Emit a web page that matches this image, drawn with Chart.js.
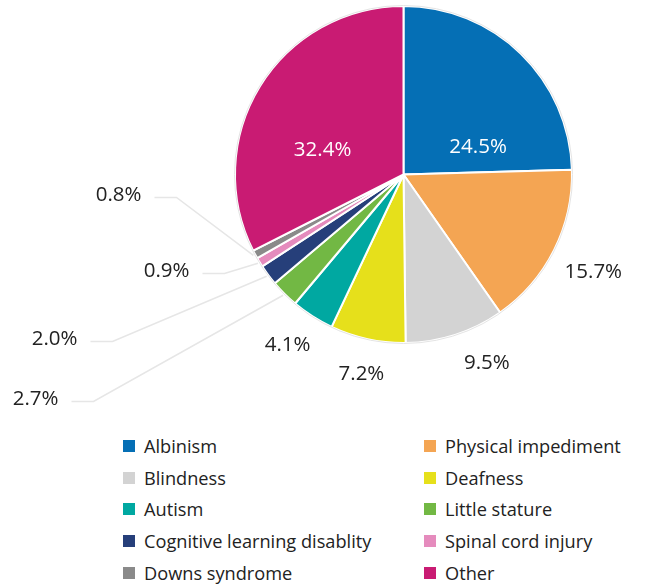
<!DOCTYPE html>
<html lang="en">
<head>
    <meta charset="UTF-8">
    <title>Disability types</title>
    <script src="https://cdn.jsdelivr.net/npm/chart.js"></script>
    <style>
        body {
            margin: 0;
            width: 662px;
            height: 587px;
            background: #fff;
            font-family: 'Open Sans', sans-serif;
            position: relative;
            overflow: hidden;
        }

        #chartBox {
            position: absolute;
            left: 0;
            top: 0;
            width: 662px;
            height: 430px;
        }

        #legend {
            position: absolute;
            left: 123px;
            top: 430px;
            display: grid;
            grid-template-columns: 301px 240px;
            grid-auto-rows: 31.8px;
            font-size: 18.2px;
            color: #222;
        }

        .item {
            display: flex;
            align-items: center;
            white-space: nowrap;
        }

        .swatch {
            width: 12px;
            height: 12px;
            margin-right: 9px;
            flex: none;
        }
    </style>
</head>
<body>
    <div id="chartBox"><canvas id="pieChart"></canvas></div>
    <div id="legend"></div>

    <script>
        const categories = ['Albinism', 'Physical impediment', 'Blindness', 'Deafness', 'Autism',
            'Little stature', 'Cognitive learning disablity', 'Spinal cord injury', 'Downs syndrome', 'Other'];
        const shares = [24.5, 15.7, 9.5, 7.2, 4.1, 2.7, 2.0, 0.9, 0.8, 32.4];
        const colors = ['#056fb5', '#f4a553', '#d3d3d3', '#e6e01b', '#00a8a1',
            '#72b844', '#263f7a', '#e58bbd', '#8a8a8a', '#c91b73'];

        // how each percentage label is placed
        const labelLayout = [
            { kind: 'in', r: 80, shift: 24.6 },
            { kind: 'out', r: 213, shift: 0.3 },
            { kind: 'out', r: 204.5, shift: -6.2 },
            { kind: 'out', r: 203, shift: -0.3 },
            { kind: 'out', r: 205, shift: 1.8 },
            { kind: 'lead', dx: -310, dy: 227 },
            { kind: 'lead', dx: -291, dy: 167 },
            { kind: 'lead', dx: -179, dy: 99 },
            { kind: 'lead', dx: -227, dy: 23 },
            { kind: 'in', r: 85, shift: -13.7 }
        ];

        const pieLabels = {
            id: 'pieLabels',
            afterDatasetsDraw(chart) {
                const ctx = chart.ctx;
                const arcs = chart.getDatasetMeta(0).data;
                ctx.save();
                // faint outline round the pie
                const a0 = arcs[0];
                ctx.beginPath();
                ctx.arc(a0.x, a0.y, a0.outerRadius + 0.5, 0, Math.PI * 2);
                ctx.strokeStyle = '#e4e4e4';
                ctx.lineWidth = 1;
                ctx.stroke();

                const size = 20.5;
                const half = size * 0.357;  // half the digit height
                ctx.font = size + 'px "Open Sans", sans-serif';
                ctx.textBaseline = 'alphabetic';
                arcs.forEach((arc, i) => {
                    const cfg = labelLayout[i];
                    const text = shares[i].toFixed(1) + '%';
                    const mid = (arc.startAngle + arc.endAngle) / 2;
                    if (cfg.kind === 'lead') {
                        const ex = arc.x + cfg.dx, ey = arc.y + cfg.dy;
                        const sx = arc.x + Math.cos(mid) * (arc.outerRadius + 2);
                        const sy = arc.y + Math.sin(mid) * (arc.outerRadius + 2);
                        ctx.beginPath();
                        ctx.moveTo(sx, sy);
                        ctx.lineTo(ex, ey);
                        ctx.lineTo(ex - 22, ey);
                        ctx.strokeStyle = '#e6e6e6';
                        ctx.lineWidth = 1.5;
                        ctx.stroke();
                        ctx.fillStyle = '#222';
                        ctx.textAlign = 'right';
                        ctx.fillText(text, ex - 35, ey - 3.5 + half);
                    } else {
                        const a = mid + cfg.shift * Math.PI / 180;
                        ctx.fillStyle = cfg.kind === 'in' ? '#ffffff' : '#222';
                        ctx.textAlign = 'center';
                        ctx.fillText(text, arc.x + Math.cos(a) * cfg.r, arc.y + Math.sin(a) * cfg.r + half);
                    }
                });
                ctx.restore();
            }
        };

        new Chart(document.getElementById('pieChart'), {
            type: 'pie',
            data: {
                labels: categories,
                datasets: [{
                    data: shares,
                    backgroundColor: colors,
                    borderColor: '#ffffff',
                    borderWidth: 2
                }]
            },
            options: {
                responsive: true,
                maintainAspectRatio: false,
                animation: false,
                layout: {
                    padding: { left: 233, right: 88, top: 5, bottom: 86 }
                },
                plugins: {
                    legend: { display: false },
                    tooltip: { enabled: false }
                }
            },
            plugins: [pieLabels]
        });

        const legendEl = document.getElementById('legend');
        categories.forEach((name, i) => {
            const item = document.createElement('div');
            item.className = 'item';
            item.innerHTML = '<span class="swatch" style="background:' + colors[i] + '"></span>' + name;
            legendEl.appendChild(item);
        });
    </script>
</body>
</html>
